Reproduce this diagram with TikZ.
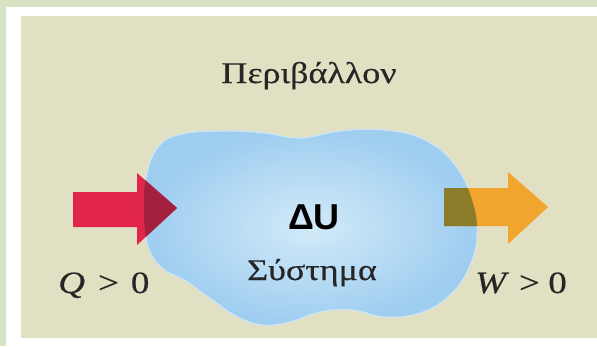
\documentclass[tikz,border=0pt]{standalone}
\usepackage{fontspec}
\setmainfont{Liberation Serif}[FakeStretch=1.2, FakeBold=0.4]
\newfontfamily\labelsans{Liberation Sans}
\usetikzlibrary{shadings}

\definecolor{framegreen}{HTML}{D7E3C3}
\definecolor{paper}{HTML}{E1E0C2}
\definecolor{blobout}{HTML}{9ECDF0}
\definecolor{blobin}{HTML}{D2EAF8}
\definecolor{blobrim}{HTML}{CBE5F5}
\definecolor{heatred}{HTML}{E2254A}
\definecolor{heatdark}{HTML}{A3203F}
\definecolor{workorange}{HTML}{F2A52E}
\definecolor{workolive}{HTML}{8A7C2B}

\tikzset{
  greektext/.style={font=\fontsize{30}{30}\selectfont, text=black!85, inner sep=0pt},
  signtext/.style={font=\fontsize{31}{31}\selectfont, text=black!85, inner sep=0pt},
  energytext/.style={font=\labelsans\bfseries\fontsize{36}{36}\selectfont, text=black, inner sep=0pt},
}

\begin{document}
\begin{tikzpicture}[x=1pt, y=-1pt]
  % page frame
  \fill[framegreen] (0,0) rectangle (597,346);
  \fill[white] (6,7) rectangle (597,346);
  \fill[paper] (21,16) rectangle (597,338);
  \useasboundingbox (0,0) rectangle (597,346);

  % the system: an irregular blob
  \def\blobpath{plot[smooth cycle, tension=0.7] coordinates {
      (146,178) (158,147) (182,134) (225,131) (265,133) (300,138)
      (340,131) (385,130) (425,140) (455,165) (472,200) (477,235)
      (469,268) (449,296) (420,313) (385,317) (352,310) (320,312)
      (290,322) (262,325) (236,316) (211,299) (186,281) (162,268)
      (148,246) (144,212)}}
  \shade[inner color=blobin, outer color=blobout] \blobpath;
  \draw[blobrim, line width=1.2pt] \blobpath;

  % heat flowing in
  \def\heatarrow{(73,192) -- (137,192) -- (137,173) -- (177,208) -- (137,245) -- (137,227) -- (73,227) -- cycle}
  \fill[heatred] \heatarrow;
  % work flowing out
  \def\workarrow{(444,188) -- (508,188) -- (508,172) -- (548,207) -- (508,244) -- (508,226) -- (444,226) -- cycle}
  \fill[workorange] \workarrow;

  % where the arrows lie over the system
  \begin{scope}
    \clip \blobpath;
    \fill[heatdark] \heatarrow;
    \fill[workolive] \workarrow;
  \end{scope}

  % labels
  \node[greektext, anchor=base] (env) at (309,83) {Περιβάλλον};
  \node[energytext, anchor=base] (dU) at (314,229) {ΔU};
  \node[greektext, anchor=base] (sys) at (312,280) {Σύστημα};
  \node[signtext, anchor=base west] (q) at (58,293) {\textit{Q}\hspace{0.42em}>\hspace{0.38em}0};
  \node[signtext, anchor=base west] (w) at (475,293) {\textit{W}\hspace{0.32em}>\hspace{0.27em}0};
\end{tikzpicture}
\end{document}
